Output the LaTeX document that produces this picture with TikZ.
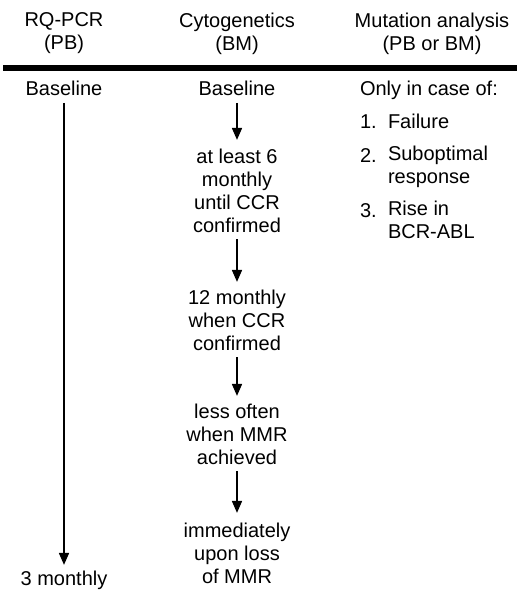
\documentclass[tikz,border=0pt]{standalone}
\usepackage{fontspec}
\setmainfont{Liberation Sans}
\usetikzlibrary{arrows.meta}
\begin{document}
\begin{tikzpicture}[x=1pt,y=-1pt,
  txt/.style={inner sep=0pt, outer sep=0pt, anchor=north, align=center,
    font=\fontsize{20}{23}\selectfont, execute at begin node=\strut},
  ltxt/.style={txt, anchor=north west, align=left},
  arr/.style={-{Triangle[length=12pt,width=10pt]}, line width=1.7pt},
]
\useasboundingbox (0,0) rectangle (520,594);
% header
\node[txt] (h1) at (64,12.9) {RQ-PCR\\(PB)};
\node[txt] (h2) at (237,12.9) {Cytogenetics\\(BM)};
\node[txt] (h3) at (432,12.9) {Mutation analysis\\(PB or BM)};
\coordinate (rl) at (3,68);
\coordinate (rr) at (517,68);
\draw[line width=5.5pt] (rl) -- (rr);
% RQ-PCR column
\node[txt] (b1) at (64,79.9) {Baseline};
\node[txt] (m3) at (64,568.9) {3 monthly};
\draw[arr, shorten >=4pt] (b1.south) -- (m3.north);
% Cytogenetics column
\node[txt] (c0) at (237,79.9) {Baseline};
\node[txt] (c1) at (237,148.9) {at least 6\\monthly\\until CCR\\confirmed};
\node[txt] (c2) at (237,289.9) {12 monthly\\when CCR\\confirmed};
\node[txt] (c3) at (237,403.9) {less often\\when MMR\\achieved};
\node[txt] (c4) at (237,522.9) {immediately\\upon loss\\of MMR};
\draw[arr, shorten >=9pt] (c0.south) -- (c1.north);
\draw[arr, shorten >=8pt] (c1.south) -- (c2.north);
\draw[arr, shorten >=8pt] (c2.south) -- (c3.north);
\draw[arr, shorten >=10pt] (c3.south) -- (c4.north);
% Mutation analysis column
\node[ltxt] (only) at (360,79.9) {Only in case of:};
\node[ltxt] (n1) at (360,111.9) {1.};
\node[ltxt] (t1) at (388,111.9) {Failure};
\node[ltxt] (n2) at (360,145.9) {2.};
\node[ltxt] (t2) at (388,145.9) {Suboptimal\\response};
\node[ltxt] (n3) at (360,200.9) {3.};
\node[ltxt] (t3) at (388,200.9) {Rise in\\BCR-ABL};
\end{tikzpicture}
\end{document}
